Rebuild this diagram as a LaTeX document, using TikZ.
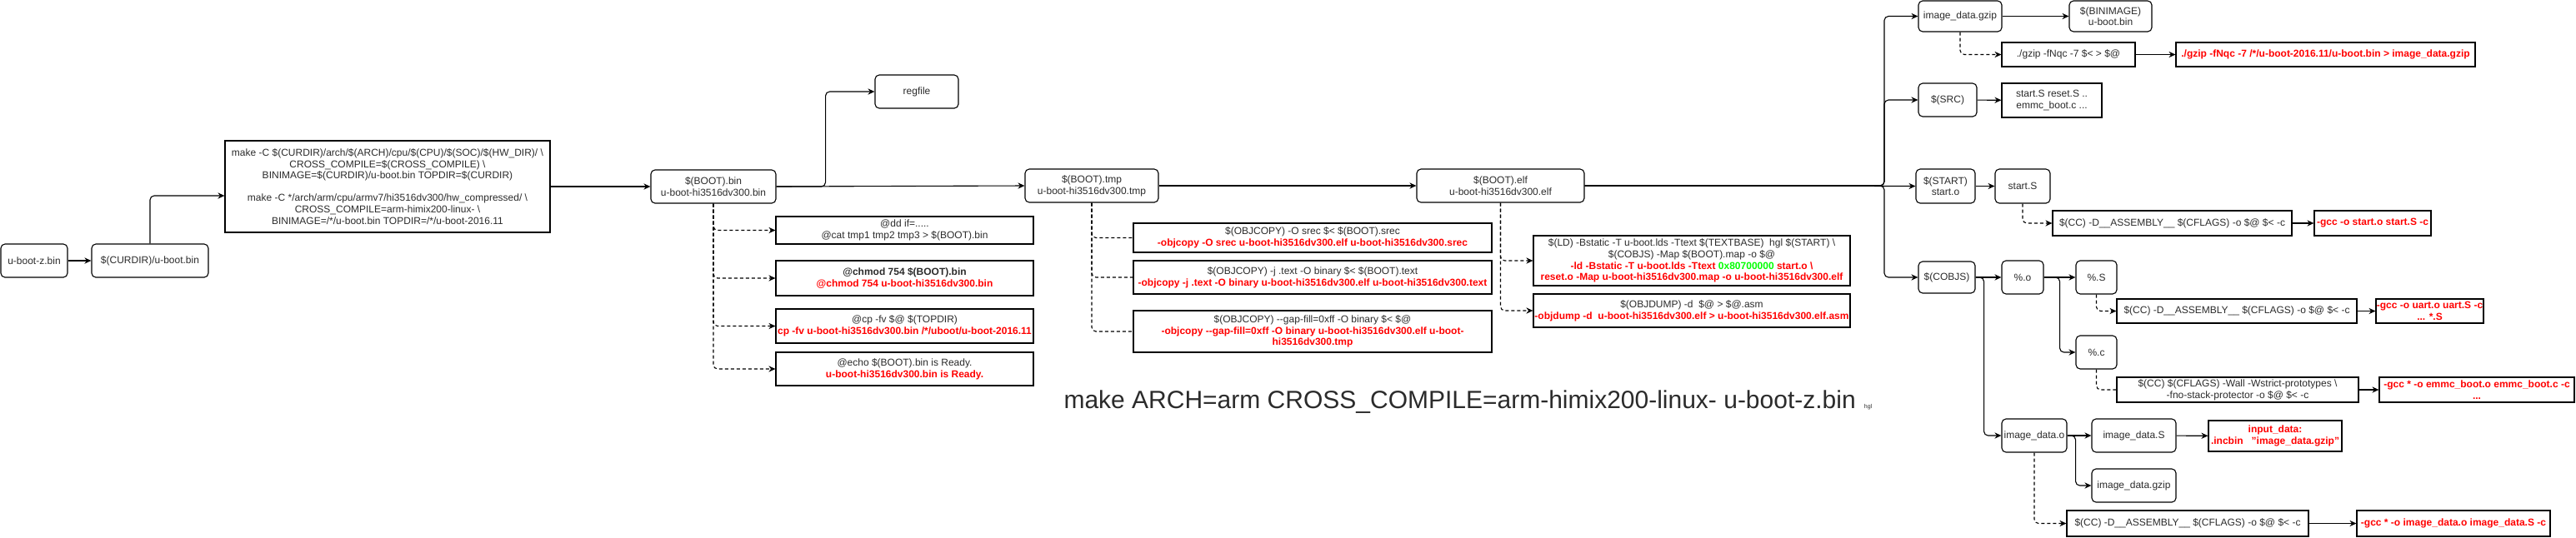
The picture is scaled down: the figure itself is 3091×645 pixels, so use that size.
\documentclass[tikz,border=0pt]{standalone}
\usepackage{fontspec}
\setmainfont{Liberation Sans}
\usetikzlibrary{arrows.meta}
\definecolor{hotred}{HTML}{FF0000}
\definecolor{hexgreen}{HTML}{00FF00}
\definecolor{ink}{HTML}{2B2B2B}
\newcommand{\redcmd}[1]{\textcolor{hotred}{\bfseries #1}}
\newcommand{\bsl}{\textbackslash}

\begin{document}
\begin{tikzpicture}[x=0.5pt,y=-0.5pt,line width=0.55pt,>={Stealth[length=4pt,width=3.6pt]},
      every node/.style={font=\fontsize{6}{6.8}\selectfont,text=ink,align=center,inner sep=0pt},
      wh/.style 2 args={minimum width=#1*0.5pt,minimum height=#2*0.5pt},
      goal/.style={draw,rounded corners=2.5pt},
      recipe/.style={draw},
      dep/.style={->,rounded corners=2.5pt},
      cmdlink/.style={dash pattern=on 2pt off 1.5pt,rounded corners=2.5pt},
      cmdarrow/.style={cmdlink,->}]

      \useasboundingbox (0,0) rectangle (3091,645);

      \node[goal,wh={80}{40}]    (uboot)    at (41,313)     {u-boot-z.bin};
      \node[goal,wh={140}{40}]   (curdir)   at (180,313)    {\$(CURDIR)/u-boot.bin};
      \node[recipe,wh={390}{110}] (makesub) at (465,224)    {make -C \$(CURDIR)/arch/\$(ARCH)/cpu/\$(CPU)/\$(SOC)/\$(HW\_DIR)/ \bsl\\CROSS\_COMPILE=\$(CROSS\_COMPILE) \bsl\\BINIMAGE=\$(CURDIR)/u-boot.bin TOPDIR=\$(CURDIR)\\[6.8pt]make -C */arch/arm/cpu/armv7/hi3516dv300/hw\_compressed/ \bsl\\CROSS\_COMPILE=arm-himix200-linux- \bsl\\BINIMAGE=/*/u-boot.bin TOPDIR=/*/u-boot-2016.11};

      \node[goal,wh={150}{40}]   (bootbin)  at (856,224)    {\$(BOOT).bin\\u-boot-hi3516dv300.bin};
      \node[goal,wh={100}{40}]   (regfile)  at (1100,110)   {regfile};
      \node[recipe,wh={309}{33}] (ddcat)    at (1085.5,276.5) {@dd if=.....\\@cat tmp1 tmp2 tmp3 > \$(BOOT).bin};
      \node[recipe,wh={309}{42}] (chmod)    at (1085.5,334) {\textbf{@chmod 754 \$(BOOT).bin}\\\redcmd{@chmod 754 u-boot-hi3516dv300.bin}};
      \node[recipe,wh={309}{41}] (cptop)    at (1085.5,391.5) {@cp -fv \$@ \$(TOPDIR)\\\redcmd{cp -fv u-boot-hi3516dv300.bin /*/uboot/u-boot-2016.11}};
      \node[recipe,wh={309}{40}] (ready)    at (1085.5,443) {@echo \$(BOOT).bin is Ready.\\\redcmd{u-boot-hi3516dv300.bin is Ready.}};

      \node[goal,wh={160}{40}]   (boottmp)  at (1310,223)   {\$(BOOT).tmp\\u-boot-hi3516dv300.tmp};
      \node[recipe,wh={430}{35}] (srec)     at (1575,285.5) {\$(OBJCOPY) -O srec \$< \$(BOOT).srec\\\redcmd{-objcopy -O srec u-boot-hi3516dv300.elf u-boot-hi3516dv300.srec}};
      \node[recipe,wh={430}{40}] (textsec)  at (1575,333)   {\$(OBJCOPY) -j .text -O binary \$< \$(BOOT).text\\\redcmd{-objcopy -j .text -O binary u-boot-hi3516dv300.elf u-boot-hi3516dv300.text}};
      \node[recipe,wh={430}{50}] (gapfill)  at (1575,398)   {\$(OBJCOPY) -{}-gap-fill=0xff -O binary \$< \$@\\\redcmd{-objcopy -{}-gap-fill=0xff -O binary u-boot-hi3516dv300.elf u-boot-}\\\redcmd{hi3516dv300.tmp}};

      \node[goal,wh={201}{40}]   (bootelf)  at (1800.5,223) {\$(BOOT).elf\\u-boot-hi3516dv300.elf};
      \node[recipe,wh={380}{60}] (ldcmd)    at (2030,313)   {\$(LD) -Bstatic -T u-boot.lds -Ttext \$(TEXTBASE)\ \ hgl \$(START) \bsl\\\$(COBJS) -Map \$(BOOT).map -o \$@\\\redcmd{-ld -Bstatic -T u-boot.lds -Ttext \textcolor{hexgreen}{0x80700000} start.o \bsl}\\\redcmd{reset.o -Map u-boot-hi3516dv300.map -o u-boot-hi3516dv300.elf}};
      \node[recipe,wh={380}{40}] (asm)      at (2030,373)   {\$(OBJDUMP) -d\ \ \$@ > \$@.asm\\\redcmd{-objdump -d\ \ u-boot-hi3516dv300.elf > u-boot-hi3516dv300.elf.asm}};

      \coordinate (fork) at (2261,223);

      \node[goal,wh={100}{37}]   (gzip)     at (2352,19.5)  {image\_data.gzip};
      \node[goal,wh={99}{37}]    (binimage) at (2532.5,19.5) {\$(BINIMAGE)\\u-boot.bin};
      \node[recipe,wh={160}{29}] (gzipcmd)  at (2482,65.5)  {./gzip -fNqc -7 \$< > \$@};
      \node[recipe,wh={359}{29}] (gzipred)  at (2790.5,65.5) {\redcmd{./gzip -fNqc -7 /*/u-boot-2016.11/u-boot.bin > image\_data.gzip}};
      \node[goal,wh={70}{40}]    (src)      at (2337,120)   {\$(SRC)};
      \node[recipe,wh={120}{41}] (srclist)  at (2462,120.5) {start.S reset.S ..\\emmc\_boot.c ...};
      \node[goal,wh={71}{41}]    (start)    at (2334.5,223.5) {\$(START)\\start.o};
      \node[goal,wh={66}{41}]    (startS)   at (2427,223.5) {start.S};
      \node[recipe,wh={287}{30}] (startcc)  at (2606.5,268) {\$(CC) -D\_\_ASSEMBLY\_\_ \$(CFLAGS) -o \$@ \$< -c};
      \node[recipe,wh={140}{30}] (startred) at (2847,268)   {\redcmd{-gcc -o start.o start.S -c}};

      \node[goal,wh={68}{38}]    (cobjs)    at (2336,333)   {\$(COBJS)};
      \node[goal,wh={50}{40}]    (pcto)     at (2427,333)   {\%.o};
      \node[goal,wh={49}{40}]    (pctS)     at (2515.5,333) {\%.S};
      \node[recipe,wh={288}{29}] (Scc)      at (2684,373.5) {\$(CC) -D\_\_ASSEMBLY\_\_ \$(CFLAGS) -o \$@ \$< -c};
      \node[recipe,wh={129}{29}] (Sred)     at (2915.5,373.5) {\redcmd{-gcc -o uart.o uart.S -c}\\\redcmd{... *.S}};
      \node[goal,wh={49}{40}]    (pctc)     at (2515.5,423) {\%.c};
      \node[recipe,wh={290}{30}] (ccc)      at (2685,468)   {\$(CC) \$(CFLAGS) -Wall -Wstrict-prototypes \bsl\\-fno-stack-protector -o \$@ \$< -c};
      \node[recipe,wh={234}{30}] (cred)     at (2972,468)   {\redcmd{-gcc * -o emmc\_boot.o emmc\_boot.c -c}\\\redcmd{...}};

      \node[goal,wh={78}{40}]    (imgo)     at (2441,523)   {image\_data.o};
      \node[goal,wh={101}{40}]   (imgS)     at (2560.5,523) {image\_data.S};
      \node[recipe,wh={160}{37}] (incbin)   at (2730,523.5) {\redcmd{input\_data:}\\\redcmd{.incbin\ \ \ "image\_data.gzip"}};
      \node[goal,wh={101}{40}]   (imggz)    at (2560.5,583) {image\_data.gzip};
      \node[recipe,wh={290}{31}] (imgcc)    at (2625,628.5) {\$(CC) -D\_\_ASSEMBLY\_\_ \$(CFLAGS) -o \$@ \$< -c};
      \node[recipe,wh={232}{31}] (imgred)   at (2944,628.5) {\redcmd{-gcc * -o image\_data.o image\_data.S -c}};

      \node[anchor=base west,font=\fontsize{15}{18}\selectfont] (makecmd) at (1276,490) {make ARCH=arm CROSS\_COMPILE=arm-himix200-linux- u-boot-z.bin};
      \node[anchor=base west,font=\fontsize{3.5}{4}\selectfont] (author) at ([xshift=4.5pt]makecmd.base east) {hgl};

      \path[dep] (uboot) edge (curdir)
      (makesub.east) edge (bootbin.west)
      (bootbin.east) edge (boottmp.west)
      (boottmp.east) edge (bootelf.west)
      (gzip) edge (binimage)
      (gzipcmd) edge (gzipred)
      (src) edge (srclist)
      (start) edge (startS)
      (startcc) edge (startred)
      (cobjs) edge (pcto)
      (pcto) edge (pctS)
      (Scc) edge (Sred)
      (ccc) edge (cred)
      (imgo) edge (imgS)
      (imgS) edge (incbin)
      (imgcc) edge (imgred);

      \draw[dep] (curdir.north) |- ([yshift=-5.5pt]makesub.west);
      \draw[dep] (bootbin.east) -- ++(59,0) |- (regfile.west);
      \draw[dep] (bootelf.east) -- (fork) |- (gzip.west);
      \draw[dep] (bootelf.east) -- (fork) |- (src.west);
      \draw[dep] (bootelf.east) -- (start.west);
      \draw[dep] (bootelf.east) -- (fork) |- (cobjs.west);
      \draw[dep] (pcto.east) -- ++(19,0) |- (pctc.west);
      \draw[dep] (cobjs.east) -- ++(10,0) |- (imgo.west);
      \draw[dep] (imgo.east) -- ++(10,0) |- (imggz.west);

      \foreach \t in {ddcat,chmod,cptop,ready} \draw[cmdarrow] (bootbin.south) |- (\t.west);
      \foreach \t in {srec,textsec,gapfill} \draw[cmdlink] (boottmp.south) |- (\t.west);
      \foreach \t in {ldcmd,asm} \draw[cmdarrow] (bootelf.south) |- (\t.west);
      \draw[cmdarrow] (gzip.south) |- (gzipcmd.west);
      \draw[cmdarrow] (startS.south) |- (startcc.west);
      \draw[cmdarrow] (pctS.south) |- (Scc.west);
      \draw[cmdlink] (pctc.south) |- (ccc.west);
      \draw[cmdarrow] (imgo.south) |- (imgcc.west);
    \end{tikzpicture}
\end{document}
